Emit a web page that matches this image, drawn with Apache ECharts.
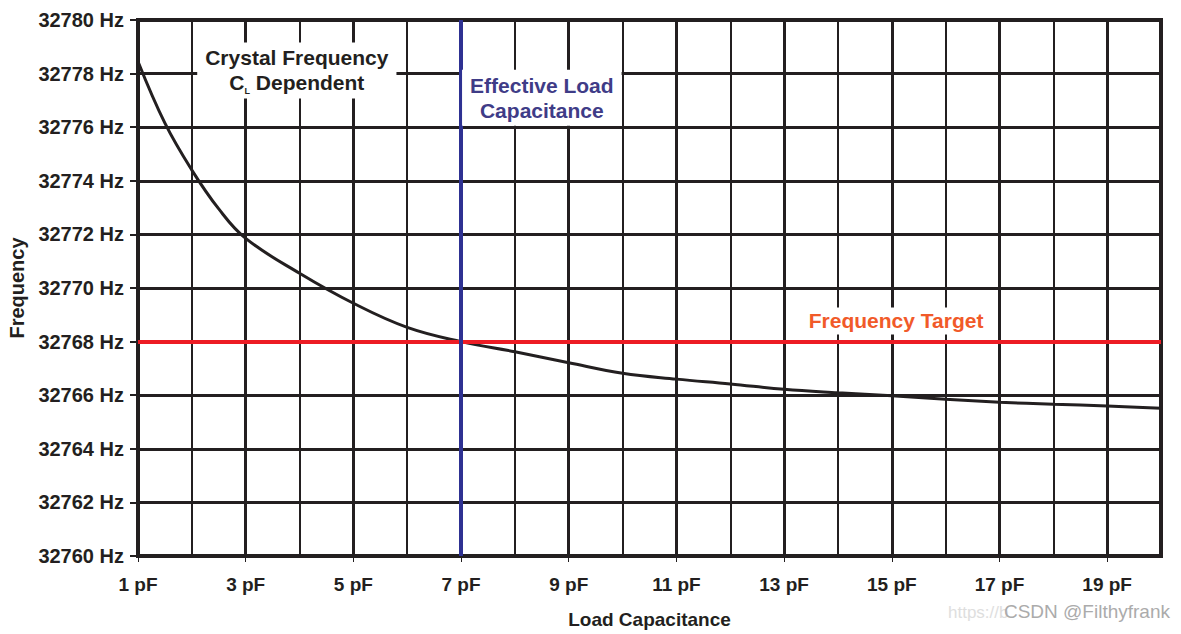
<!DOCTYPE html>
<html>
<head>
<meta charset="utf-8">
<script src="https://cdn.jsdelivr.net/npm/echarts@6/dist/echarts.min.js"></script>
<style>
  html, body { margin: 0; padding: 0; background: #fff; }
  #chart { width: 1181px; height: 634px; }
</style>
</head>
<body>
<div id="chart"></div>
<script>
(function() {
  var ink = '#231f20';
  var font = '"Liberation Sans", Arial, sans-serif';

  // Load capacitance (pF) and crystal frequency (Hz)
  var capValues  = [1, 1.5, 2, 2.5, 3, 4, 5, 6, 7, 8, 9, 10, 11, 12, 13, 14, 15, 16, 17, 18, 19, 20];
  var freqValues = [32778.45, 32776.15, 32774.4, 32772.95, 32771.85, 32770.55, 32769.43, 32768.53, 32768.0,
                    32767.62, 32767.21, 32766.82, 32766.6, 32766.42, 32766.22, 32766.09, 32765.98,
                    32765.85, 32765.74, 32765.66, 32765.6, 32765.51];
  var targetFreq = 32768;
  var effectiveLoad = 7;

  var curve = capValues.map(function(c, i) { return [c, freqValues[i]]; });

  var chart = echarts.init(document.getElementById('chart'), null, { renderer: 'svg' });
  chart.setOption({
    animation: false,
    textStyle: { fontFamily: font },
    grid: {
      left: 138, right: 20, top: 20, bottom: 78, outerBoundsMode: 'none', containLabel: false,
      show: true, borderColor: ink, borderWidth: 4, backgroundColor: 'transparent'
    },
    xAxis: [
      {
        type: 'value', min: 1, max: 20, interval: 1, position: 'bottom',
        name: 'Load Capacitance', nameLocation: 'middle', nameGap: 54,
        nameTextStyle: { color: ink, fontSize: 19, fontWeight: 'bold', fontFamily: font },
        axisLine: { show: false },
        axisTick: { show: false },
        axisLabel: { show: false },
        splitLine: { show: true, lineStyle: { color: ink, width: 2 } }
      },
      {
        // odd pF ticks: offset by one so the interval starts at 0
        type: 'value', min: 0, max: 19, interval: 2, position: 'bottom',
        axisLine: { show: false },
        axisTick: { show: true, inside: false, length: 6, lineStyle: { color: ink, width: 1 } },
        axisLabel: {
          color: ink, fontSize: 19, fontWeight: 'bold', margin: 19, fontFamily: font,
          showMaxLabel: false, hideOverlap: false,
          formatter: function(v) { return (v + 1) + ' pF'; }
        },
        splitLine: { show: true, lineStyle: { color: ink, width: 3 } }
      }
    ],
    yAxis: {
      type: 'value', min: 32760, max: 32780, interval: 2,
      name: 'Frequency', nameLocation: 'middle', nameGap: 110,
      nameTextStyle: { color: ink, fontSize: 20, fontWeight: 'bold', fontFamily: font },
      axisLine: { show: false },
      axisTick: { show: true, length: 8, lineStyle: { color: ink, width: 2 } },
      axisLabel: {
        color: ink, fontSize: 20, fontWeight: 'bold', margin: 14, fontFamily: font,
        formatter: function(v) { return v + ' Hz'; }
      },
      splitLine: { show: true, lineStyle: { color: ink, width: 3 } }
    },
    series: [
      {
        name: 'Crystal Frequency', type: 'line', xAxisIndex: 0, smooth: 0.4,
        data: curve, showSymbol: false, z: 3,
        lineStyle: { color: ink, width: 3 },
        markLine: {
          silent: true, symbol: 'none', label: { show: false },
          data: [
            { yAxis: targetFreq, lineStyle: { color: '#ed1c24', width: 4, type: 'solid' } },
            { xAxis: effectiveLoad, lineStyle: { color: '#2e3192', width: 4, type: 'solid' } }
          ]
        },
        markPoint: {
          silent: true, symbol: 'rect', symbolSize: 0,
          data: [
            {
              coord: [3.95, 32778.12],
              label: {
                show: true, position: 'inside', align: 'center', verticalAlign: 'middle',
                backgroundColor: '#fff', padding: [3, 8, 3, 8], lineHeight: 25,
                formatter: '{a|Crystal Frequency}\n{a|C}{s|L}{a| Dependent}',
                rich: {
                  a: { color: ink, fontSize: 21, fontWeight: 'bold', fontFamily: font, lineHeight: 25 },
                  s: { color: ink, fontSize: 9, fontWeight: 'bold', fontFamily: font, lineHeight: 25, verticalAlign: 'bottom' }
                }
              }
            },
            {
              coord: [8.5, 32777.1],
              label: {
                show: true, position: 'inside', align: 'center', verticalAlign: 'middle',
                backgroundColor: '#fff', padding: [3, 8, 3, 8], lineHeight: 25,
                formatter: 'Effective Load\nCapacitance',
                color: '#3f3c87', fontSize: 21, fontWeight: 'bold', fontFamily: font
              }
            },
            {
              coord: [15.08, 32768.77],
              label: {
                show: true, position: 'inside', align: 'center', verticalAlign: 'middle',
                backgroundColor: '#fff', padding: [3, 6, 3, 6],
                formatter: 'Frequency Target',
                color: '#f15a29', fontSize: 21, fontWeight: 'bold', fontFamily: font
              }
            }
          ]
        }
      }
    ],
    graphic: [
      {
        type: 'text', left: 948, top: 604, silent: true,
        style: { text: 'https://b', fill: '#dedede', font: '17px ' + font }
      },
      {
        type: 'text', right: 11, top: 602, silent: true,
        style: { text: 'CSDN @Filthyfrank', fill: '#ababab', font: '19px ' + font }
      }
    ]
  });
  window.addEventListener('resize', function() { chart.resize(); });
})();
</script>
</body>
</html>
